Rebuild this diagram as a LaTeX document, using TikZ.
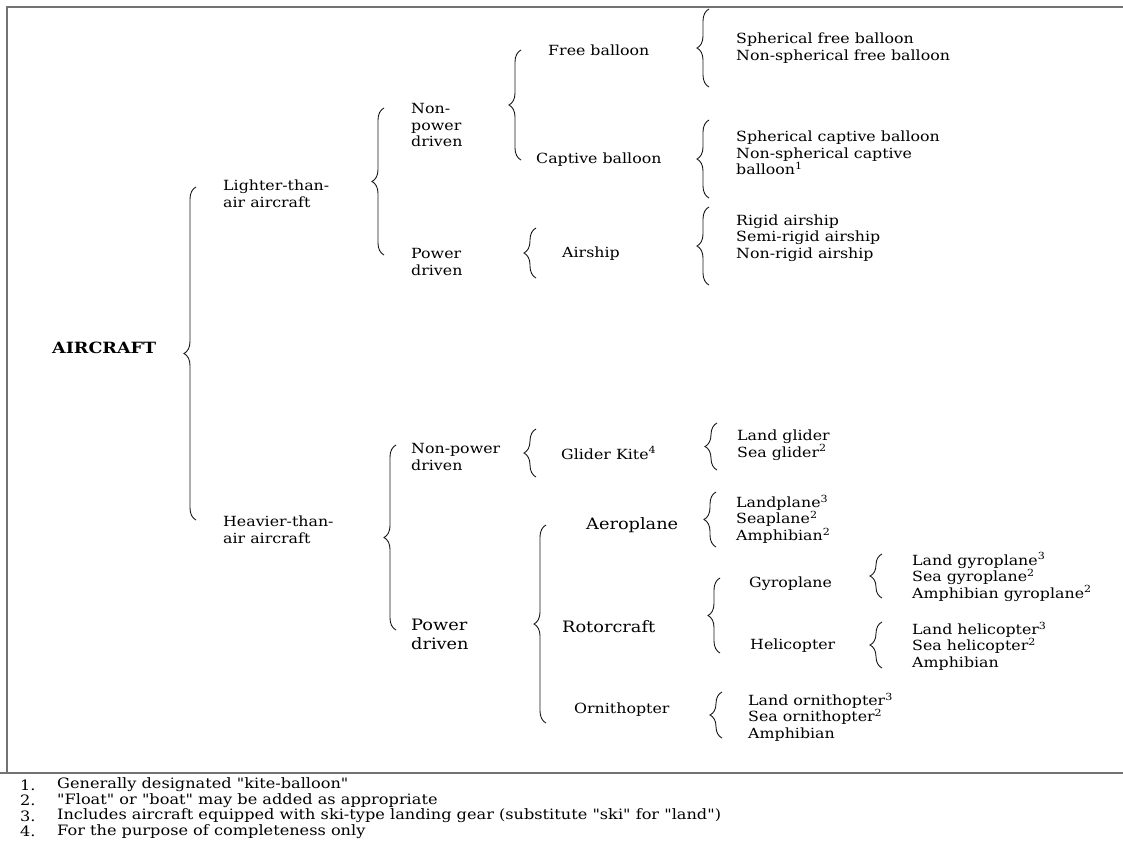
\documentclass[tikz,border=0pt]{standalone}
\usepackage{fontspec}
\setmainfont{DejaVu Serif}[FakeStretch=1.13, Ligatures=TeXOff]
\usetikzlibrary{decorations.pathreplacing}

\tikzset{
  txt/.style={anchor=west, inner sep=0pt, align=left, text=black,
    font=\fontsize{14}{16.5}\selectfont},
  bigtxt/.style={txt, font=\fontsize{15.7}{19}\selectfont},
  note/.style={txt, font=\fontsize{14.3}{15.4}\selectfont},
  curly/.style={decorate, decoration={brace, amplitude=12pt}, line width=0.9pt, black!90},
  frame/.style={line width=1.2pt, black!55},
}

\begin{document}
\begin{tikzpicture}[x=1pt, y=-1pt]
  \useasboundingbox (0,0) rectangle (1123,846);

  % Frame and footnote rule
  \draw[frame] (7,773) -- (7,7) -- (1123,7);
  \draw[frame] (0,773) -- (1123,773);

  % Root
  \node[txt, font=\bfseries\fontsize{15.5}{18}\selectfont] (aircraft) at (52,348) {AIRCRAFT};
  \draw[curly] (196,520) -- (196,187);

  % Lighter-than-air branch
  \node[txt] (lta) at (223,194) {Lighter-than-\\air aircraft};
  \draw[curly] (384,255) -- (384,108);
  \node[txt] (ltanp) at (411,125) {Non-\\power\\driven};
  \node[txt] (ltapd) at (411,262) {Power\\driven};

  \draw[curly] (521,160) -- (521,50);
  \node[txt] (free) at (548,50) {Free balloon};
  \node[txt] (captive) at (536,160) {Captive balloon};
  \draw[curly] (536,278) -- (536,228);
  \node[txt] (airship) at (562,254) {Airship};

  \draw[curly] (709,87) -- (709,9);
  \node[txt] (freelist) at (736,48) {Spherical free balloon\\Non-spherical free balloon};
  \draw[curly] (709,198) -- (709,120);
  \node[txt] (captivelist) at (736,153) {Spherical captive balloon\\Non-spherical captive\\balloon\textsuperscript{1}};
  \draw[curly] (709,285) -- (709,207);
  \node[txt] (airshiplist) at (736,238) {Rigid airship\\Semi-rigid airship\\Non-rigid airship};

  % Heavier-than-air branch
  \node[txt] (hta) at (223,530) {Heavier-than-\\air aircraft};
  \draw[curly] (396,630) -- (396,445);
  \node[txt] (htanp) at (411,457) {Non-power\\driven};
  \node[bigtxt] (htapd) at (411,634) {Power\\driven};

  \draw[curly] (536,477) -- (536,429);
  \node[txt] (glider) at (561,453) {Glider Kite\textsuperscript{4}};
  \draw[curly] (717,470) -- (717,423);
  \node[txt] (gliderlist) at (737,445) {Land glider\\Sea glider\textsuperscript{2}};

  \draw[curly] (546,723) -- (546,525);
  \node[bigtxt] (aeroplane) at (586,525) {Aeroplane};
  \node[bigtxt] (rotorcraft) at (562,627) {Rotorcraft};
  \node[txt] (ornithopter) at (574,710) {Ornithopter};

  \draw[curly] (716,547) -- (716,492);
  \node[txt] (aeroplanelist) at (736,519) {Landplane\textsuperscript{3}\\Seaplane\textsuperscript{2}\\Amphibian\textsuperscript{2}};
  \draw[curly] (720,653) -- (720,578);
  \node[txt] (gyroplane) at (749,584) {Gyroplane};
  \node[txt] (helicopter) at (750,646) {Helicopter};
  \draw[curly] (722,738) -- (722,692);
  \node[txt] (ornilist) at (748,717) {Land ornithopter\textsuperscript{3}\\Sea ornithopter\textsuperscript{2}\\Amphibian};

  \draw[curly] (882,598) -- (882,554);
  \node[txt] (gyrolist) at (912,577) {Land gyroplane\textsuperscript{3}\\Sea gyroplane\textsuperscript{2}\\Amphibian gyroplane\textsuperscript{2}};
  \draw[curly] (882,668) -- (882,622);
  \node[txt] (helilist) at (912,646) {Land helicopter\textsuperscript{3}\\Sea helicopter\textsuperscript{2}\\Amphibian};

  % Footnotes
  \foreach \t [count=\i] in {Generally designated "kite-balloon",
      "Float" or "boat" may be added as appropriate,
      Includes aircraft equipped with ski-type landing gear (substitute "ski" for "land"),
      For the purpose of completeness only} {
    \node[note] (num\i) at (20,{769.6+15.4*\i}) {\i.};
    \node[note] (note\i) at (57,{769.6+15.4*\i}) {\t};
  }
\end{tikzpicture}
\end{document}
